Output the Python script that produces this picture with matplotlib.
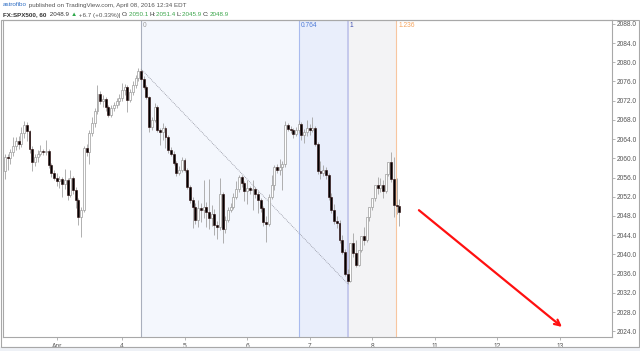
import numpy as np
import matplotlib.pyplot as plt
from matplotlib.patches import Rectangle

# hourly FX:SPX500 bars, Mar 31 .. Apr 8 2016
opens = [2057.4, 2060.2, 2060.0, 2061.3, 2062.5, 2063.6, 2063.0, 2065.2, 2067.0, 2065.6,
         2062.0, 2059.2, 2060.2, 2061.0, 2061.5, 2061.3, 2061.6, 2058.6, 2057.0, 2056.0,
         2055.3, 2055.6, 2054.6, 2055.4, 2052.4, 2055.9, 2053.4, 2051.3, 2047.7, 2049.3,
         2062.2, 2061.3, 2065.3, 2067.4, 2069.8, 2073.4, 2072.0, 2072.4, 2070.6, 2069.0,
         2070.4, 2071.0, 2071.9, 2072.6, 2074.2, 2074.8, 2072.2, 2073.8, 2075.3, 2076.8,
         2078.2, 2076.6, 2074.9, 2072.8, 2066.5, 2068.0, 2070.7, 2065.9, 2065.5, 2066.4,
         2064.5, 2061.8, 2061.0, 2059.0, 2057.0, 2057.6, 2059.7, 2057.6, 2054.0, 2051.3,
         2049.9, 2047.2, 2049.7, 2049.3, 2049.8, 2048.8, 2047.6, 2048.4, 2046.1, 2045.6,
         2052.6, 2045.2, 2047.2, 2049.2, 2049.9, 2052.0, 2053.6, 2056.1, 2054.9, 2053.3,
         2053.8, 2053.4, 2053.6, 2052.6, 2051.3, 2049.7, 2046.8, 2046.4, 2052.0, 2054.5,
         2058.2, 2057.6, 2058.2, 2058.8, 2067.0, 2066.2, 2065.9, 2065.0, 2065.8, 2067.2,
         2064.8, 2065.4, 2066.4, 2066.0, 2066.4, 2063.0, 2057.4, 2057.0, 2057.6, 2056.6,
         2052.0, 2049.2, 2047.0, 2046.5, 2043.0, 2040.5, 2036.0, 2034.4, 2042.4, 2040.3,
         2037.8, 2041.0, 2043.8, 2042.9, 2047.8, 2049.9, 2051.7, 2054.5, 2053.9, 2054.4,
         2053.1, 2056.8, 2059.2, 2055.6, 2050.3, 2050.1]
closes = [2060.2, 2060.0, 2061.3, 2062.5, 2063.6, 2063.0, 2065.2, 2067.0, 2065.6, 2062.0,
          2059.2, 2060.2, 2061.0, 2061.5, 2061.3, 2061.6, 2058.6, 2057.0, 2056.0, 2055.3,
          2055.6, 2054.6, 2055.4, 2052.4, 2055.9, 2053.4, 2051.3, 2047.7, 2049.3, 2062.2,
          2061.3, 2065.3, 2067.4, 2069.8, 2073.4, 2072.0, 2072.4, 2070.6, 2069.0, 2070.4,
          2071.0, 2071.9, 2072.6, 2074.2, 2074.8, 2072.2, 2073.8, 2075.3, 2076.8, 2078.2,
          2076.6, 2074.9, 2072.8, 2066.5, 2068.0, 2070.7, 2065.9, 2065.5, 2066.4, 2064.5,
          2061.8, 2061.0, 2059.0, 2057.0, 2057.6, 2059.7, 2057.6, 2054.0, 2051.3, 2049.9,
          2047.2, 2049.7, 2049.3, 2049.8, 2048.8, 2047.6, 2048.4, 2046.1, 2045.6, 2052.6,
          2045.2, 2047.2, 2049.2, 2049.9, 2052.0, 2053.6, 2056.1, 2054.9, 2053.3, 2053.8,
          2053.4, 2053.6, 2052.6, 2051.3, 2049.7, 2046.8, 2046.4, 2052.0, 2054.5, 2058.2,
          2057.6, 2058.2, 2058.8, 2067.0, 2066.2, 2065.9, 2065.0, 2065.8, 2067.2, 2064.8,
          2065.4, 2066.4, 2066.0, 2066.4, 2063.0, 2057.4, 2057.0, 2057.6, 2056.6, 2052.0,
          2049.2, 2047.0, 2046.5, 2043.0, 2040.5, 2036.0, 2034.4, 2042.4, 2040.3, 2037.8,
          2041.0, 2043.8, 2042.9, 2047.8, 2049.9, 2051.7, 2054.5, 2053.9, 2054.4, 2053.1,
          2056.8, 2059.2, 2055.6, 2050.3, 2050.1, 2048.9]
highs = [2060.8, 2061.0, 2062.0, 2064.5, 2064.4, 2064.7, 2066.6, 2067.8, 2067.5, 2065.9,
         2062.5, 2061.0, 2061.8, 2062.8, 2062.0, 2063.9, 2061.9, 2059.0, 2057.6, 2057.0,
         2056.3, 2056.2, 2057.8, 2056.0, 2057.6, 2056.4, 2054.0, 2051.8, 2049.9, 2062.6,
         2062.9, 2066.0, 2068.6, 2070.4, 2075.3, 2074.0, 2073.2, 2072.8, 2071.0, 2071.0,
         2071.8, 2072.6, 2073.4, 2075.6, 2075.4, 2075.2, 2074.4, 2076.0, 2077.4, 2078.8,
         2078.6, 2077.2, 2075.2, 2073.0, 2068.6, 2071.6, 2071.0, 2066.4, 2067.4, 2066.8,
         2064.9, 2062.4, 2061.6, 2059.4, 2058.4, 2060.3, 2060.1, 2058.0, 2054.4, 2052.0,
         2050.7, 2051.3, 2050.7, 2055.5, 2051.0, 2055.6, 2050.2, 2049.5, 2047.0, 2056.0,
         2053.0, 2048.0, 2049.8, 2050.8, 2052.8, 2055.2, 2056.6, 2056.6, 2055.3, 2055.5,
         2054.3, 2055.4, 2054.0, 2053.2, 2051.8, 2050.1, 2048.0, 2052.5, 2056.5, 2058.6,
         2058.8, 2059.8, 2059.5, 2067.8, 2067.3, 2066.8, 2066.3, 2066.5, 2068.0, 2067.6,
         2066.2, 2068.0, 2067.2, 2068.6, 2066.8, 2063.4, 2059.4, 2058.6, 2058.2, 2057.0,
         2052.8, 2050.4, 2048.0, 2047.2, 2044.0, 2041.2, 2037.0, 2035.0, 2044.5, 2043.0,
         2040.8, 2041.5, 2045.8, 2044.8, 2048.6, 2051.6, 2054.0, 2056.2, 2056.0, 2055.5,
         2055.0, 2057.3, 2061.3, 2060.2, 2056.0, 2051.6]
lows = [2055.8, 2057.6, 2058.8, 2060.4, 2061.8, 2061.9, 2062.4, 2064.2, 2063.6, 2061.2,
        2057.4, 2058.5, 2059.3, 2060.5, 2060.6, 2060.6, 2058.0, 2056.2, 2055.4, 2054.2,
        2053.8, 2052.0, 2053.7, 2051.4, 2052.0, 2052.6, 2049.6, 2046.2, 2043.6, 2048.8,
        2060.4, 2058.8, 2064.6, 2066.6, 2069.2, 2071.4, 2070.6, 2069.8, 2068.6, 2068.6,
        2069.9, 2070.5, 2071.0, 2072.0, 2073.2, 2069.6, 2071.8, 2073.2, 2074.6, 2076.0,
        2076.2, 2074.5, 2072.4, 2065.5, 2065.8, 2067.6, 2065.4, 2062.8, 2063.9, 2062.2,
        2061.2, 2060.4, 2058.6, 2056.3, 2056.6, 2057.2, 2057.2, 2053.6, 2050.8, 2045.5,
        2046.4, 2045.7, 2046.7, 2047.5, 2045.8, 2045.3, 2046.0, 2044.0, 2043.3, 2045.0,
        2042.4, 2044.5, 2046.7, 2048.8, 2049.4, 2051.6, 2053.0, 2054.0, 2051.2, 2050.5,
        2052.6, 2049.2, 2051.8, 2048.6, 2048.8, 2046.0, 2042.6, 2046.0, 2051.5, 2053.5,
        2056.9, 2056.5, 2053.5, 2058.2, 2065.6, 2065.2, 2064.3, 2064.6, 2065.2, 2063.8,
        2063.2, 2064.6, 2064.8, 2065.4, 2062.5, 2056.8, 2055.8, 2056.4, 2055.8, 2051.4,
        2048.6, 2046.4, 2045.4, 2042.4, 2040.0, 2035.4, 2033.9, 2034.2, 2039.5, 2037.4,
        2037.6, 2040.6, 2042.0, 2042.5, 2047.0, 2049.3, 2051.2, 2052.6, 2053.0, 2051.8,
        2052.8, 2056.3, 2055.0, 2047.8, 2048.4, 2045.9]

day_ticks = [19, 43, 66, 89, 112, 135, 158, 181, 204]
day_labels = ['Apr', '4', '5', '6', '7', '8', '11', '12', '13']
price_ticks = np.arange(2024, 2089, 4)

fib_start, fib_end = 50, 126          # peak bar, trough bar
fib_ratios = [0, 0.764, 1, 1.236]
fib_labels = ['0', '0.764', '1', '1.236']

# arrow (bar index, price)
arrow_from = (152.2, 2049.2)
arrow_to = (204.8, 2024.9)

# header pieces: (text, colour, bold)
header1 = [('astrofibo', '#2b6cc4', False),
           (' published on TradingView.com, April 08, 2016 12:34 EDT', '#555555', False)]
header2 = [('FX:SPX500, 60 ', '#333333', True), (' 2048.9 ', '#333333', False),
           ('\u25b2', '#2ea84a', False), (' +6.7 (+0.33%)| ', '#555555', False),
           ('O:', '#333333', False), ('2050.1 ', '#3aa54a', False),
           ('H:', '#333333', False), ('2051.4 ', '#3aa54a', False),
           ('L:', '#333333', False), ('2045.9 ', '#3aa54a', False),
           ('C:', '#333333', False), ('2048.9', '#3aa54a', False)]

W, H = 640, 351
fig = plt.figure(figsize=(6.4, 3.51), dpi=100)
fig.patch.set_facecolor('white')
plt.rcParams['font.family'] = ['Liberation Sans', 'DejaVu Sans']

ax = fig.add_axes([3 / W, 1 - 337 / H, (612 - 3) / W, (337 - 20) / H])
ax.set_xlim(-0.75, 223.2)
ax.set_ylim(2022.8, 2088.8)

# fib time zones
edges = [fib_start + r * (fib_end - fib_start) for r in fib_ratios]
zone_cols = ['#f4f7fd', '#e9eefb', '#f3f3f5']
for a, b, c in zip(edges[:-1], edges[1:], zone_cols):
    ax.axvspan(a, b, color=c, lw=0, zorder=0)
line_cols = ['#a9afbd', '#a9bbee', '#c4c8ec', '#f7c6a0']
line_w = [0.8, 0.8, 1.4, 0.8]
text_cols = ['#9a9a9a', '#4f7bd6', '#3f4fb0', '#f5a35c']
for e, lc, lw, tc, lab in zip(edges, line_cols, line_w, text_cols, fib_labels):
    ax.axvline(e, color=lc, lw=lw, zorder=1)
    ax.text(e + 0.8, 2088.3, lab, color=tc, fontsize=4.8, va='top', ha='left')

# diagonal trend line peak -> trough
ax.plot([fib_start, fib_end], [highs[fib_start], lows[fib_end]],
        color='#8d8f9c', lw=0.6, ls=(0, (1, 1.2)), zorder=2)

# candles
o = np.array(opens)
c = np.array(closes)
h = np.array(highs)
l = np.array(lows)
idx = np.arange(len(c))
up = c >= o
ax.vlines(idx, l, h, color='#a3a3a3', lw=0.6, zorder=3)
body_lo = np.minimum(o, c)
body_h = np.maximum(np.abs(c - o), 0.2)
ax.bar(idx[up], body_h[up], bottom=body_lo[up], width=0.72,
       color='white', edgecolor='#9b9b9b', lw=0.5, zorder=4)
ax.bar(idx[~up], body_h[~up], bottom=body_lo[~up], width=0.72,
       color='#000000', edgecolor='#2a0808', lw=0.4, zorder=4)

# red arrow
ax.annotate('', xy=arrow_to, xytext=arrow_from,
            arrowprops=dict(arrowstyle='->', color='#ff1010', lw=1.6,
                            mutation_scale=10, shrinkA=0, shrinkB=0), zorder=5)

# axes styling
for s in ax.spines.values():
    s.set_color('#a8a8a8')
    s.set_linewidth(0.8)
ax.yaxis.tick_right()
ax.set_yticks(price_ticks)
ax.set_yticklabels(['%.1f' % p for p in price_ticks])
ax.set_xticks(day_ticks)
ax.set_xticklabels(day_labels)
ax.tick_params(axis='y', direction='out', length=2, width=0.5, color='#999999',
               labelsize=4.8, labelcolor='#555555', pad=1.5)
ax.tick_params(axis='x', direction='out', length=2, width=0.5, color='#999999',
               labelsize=4.8, labelcolor='#555555', pad=2)

# outer frame and bottom strip
fig.patches.append(Rectangle((0, 0), 1, 4 / H, transform=fig.transFigure,
                             color='#eef1f6', zorder=0))
fig.patches.append(Rectangle((1 / W, 4 / H), 638 / W, (347 - 20) / H,
                             transform=fig.transFigure, fill=False,
                             edgecolor='#a8a8a8', lw=0.8))

# header, pieces laid out one after another
renderer = fig.canvas.get_renderer()


def header_line(pieces, y, size):
    x = 3
    for s, col, bold in pieces:
        t = fig.text(x / W, 1 - y / H, s, color=col, fontsize=size, va='center',
                     ha='left', fontweight='bold' if bold else 'normal')
        x += t.get_window_extent(renderer).width


header_line(header1, 5, 4.5)
header_line(header2, 15, 4.5)

fig.savefig('out.png', dpi=100)
